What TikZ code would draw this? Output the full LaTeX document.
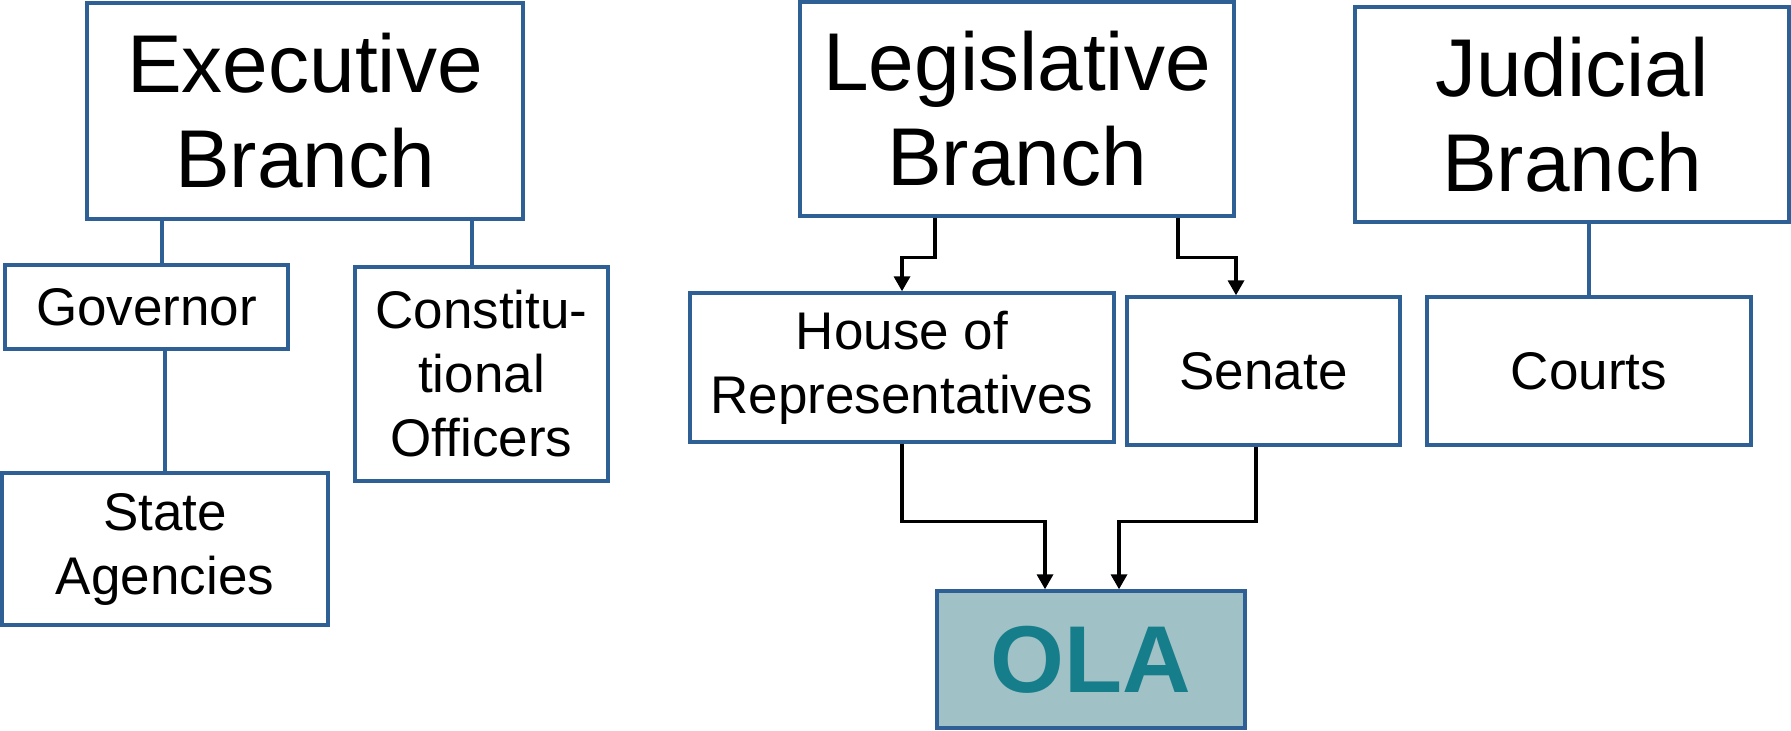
\documentclass[tikz,border=0pt]{standalone}
\usepackage{fontspec}
\setmainfont{Liberation Sans}
\usepackage{tikz}
\usetikzlibrary{
    arrows.meta,   % For the arrow tips
    positioning    % For relative placement of nodes
}
\definecolor{boxblue}{RGB}{46,96,150}
\definecolor{olafill}{RGB}{160,193,198}
\definecolor{olatext}{RGB}{22,126,138}

\begin{document}
\begin{tikzpicture}[
    x=0.5pt, y=-0.5pt,
    branch/.style={draw=boxblue, line width=1.7pt, align=center, inner sep=0pt,
                   font=\fontsize{41}{47.5}\selectfont},
    unit/.style={draw=boxblue, line width=1.7pt, align=center, inner sep=0pt,
                 font=\fontsize{26.5}{32}\selectfont},
    link/.style={draw=boxblue, line width=1.6pt},
    arr/.style={draw=black, line width=1.7pt, -{Triangle[length=7.5pt, width=8pt]}}
]
    \useasboundingbox (0,0) rectangle (1791,731);

    % --- The three branches ---
    \node[branch, minimum width=218pt, minimum height=108pt] (exec) at (305,111) {Executive\\Branch};
    \node[branch, minimum width=217pt, minimum height=107pt] (legis) at (1017,109) {Legislative\\Branch};
    \node[branch, minimum width=217pt, minimum height=107.5pt] (judic) at (1572,114.5) {Judicial\\Branch};

    % --- Executive side ---
    \node[unit, minimum width=141.5pt, minimum height=42pt] (gov) at (146.5,307) {Governor};
    \node[unit, minimum width=126.5pt, minimum height=107pt] (const) at (481.5,374) {Constitu-\\tional\\Officers};
    \node[unit, minimum width=163pt, minimum height=76pt] (agen) at (165,549) {State\\Agencies};

    \draw[link] ([xshift=-71.5pt]exec.south) -- ([xshift=-71.5pt]exec.south |- gov.north);
    \draw[link] ([xshift=83.5pt]exec.south) -- ([xshift=83.5pt]exec.south |- const.north);
    \draw[link] (gov.south -| agen.north) -- (agen.north);

    % --- Legislative side ---
    \node[unit, minimum width=212pt, minimum height=74.5pt] (house) at (902,367.5) {House of\\Representatives};
    \node[unit, minimum width=136.5pt, minimum height=74pt] (senate) at (1263.5,371) {Senate};

    \draw[arr] ([xshift=-41pt]legis.south) -- ++(0,40) -| (house.north);
    \draw[arr] ([xshift=80.5pt]legis.south) -- ++(0,40) -| ([xshift=-13.75pt]senate.north);

    % --- Judicial side ---
    \node[unit, minimum width=162pt, minimum height=74pt] (courts) at (1589,371) {Courts};
    \draw[link] (courts.north |- judic.south) -- (courts.north);

    % --- OLA ---
    \node[draw=boxblue, line width=1.7pt, fill=olafill, inner sep=0pt,
          minimum width=154pt, minimum height=68.5pt, text=olatext,
          font=\fontsize{47.5}{57}\selectfont\bfseries] (ola) at (1091,659.5) {OLA};

    \draw[arr] (house.south) -- ++(0,78) -| ([xshift=-23pt]ola.north);
    \draw[arr] ([xshift=-3.75pt]senate.south) -- ++(0,75) -| ([xshift=14pt]ola.north);
\end{tikzpicture}
\end{document}
